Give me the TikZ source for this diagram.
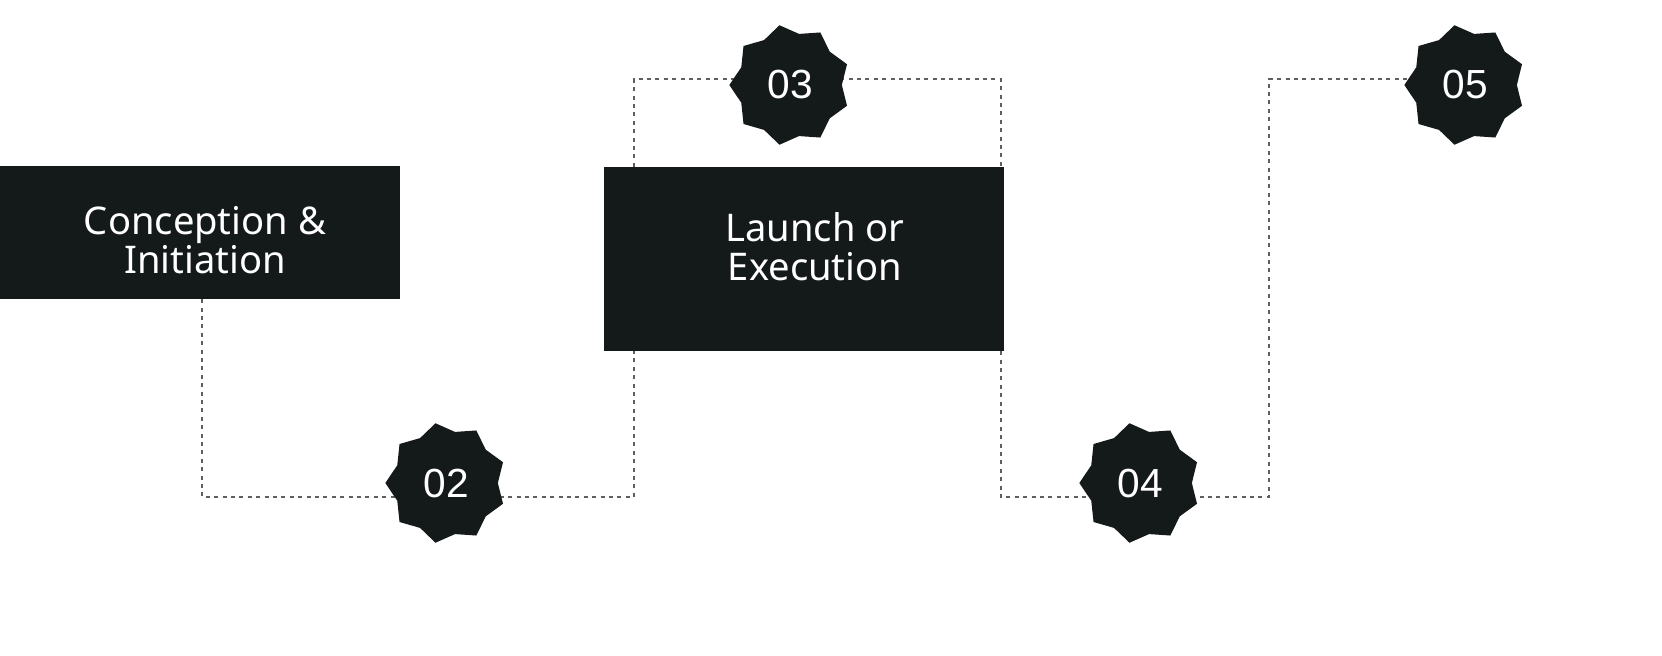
\documentclass[tikz,border=0pt]{standalone}
\usepackage{fontspec}
\setmainfont{Noto Sans}
\newfontfamily\numfont{Liberation Sans}
\usetikzlibrary{shapes.geometric,backgrounds}

\definecolor{boxfill}{RGB}{20,25,25}
\definecolor{dashgray}{RGB}{95,95,95}

\tikzset{
  stagebox/.style={fill=boxfill, draw=none, inner sep=0pt, minimum width=300pt},
  stagetext/.style={text=white, align=center, inner sep=0pt, font=\fontsize{28.6}{29.5}\selectfont},
  badge/.style={star, star points=9, star point ratio=1.17, shape border rotate=10,
    fill=boxfill, minimum size=91pt, inner sep=0pt, text=white,
    font=\numfont\fontsize{30.5}{30}\selectfont},
  guide/.style={draw=dashgray, line width=1.15pt, dash pattern=on 3pt off 3.3pt},
}

\begin{document}
\begin{tikzpicture}[x=0.75pt,y=0.75pt,yscale=-1,xscale=1]
\useasboundingbox (0,0) rectangle (1662,656);

%Shape: Rectangle [id:conc] 
\node[stagebox, minimum height=99.75pt] (conc) at (200,232.5) {};
\node[stagetext] (conctext) at (205,240) {Conception \&\\Initiation};
%Shape: Rectangle [id:launch] 
\node[stagebox, minimum height=138pt] (launch) at (804,259) {};
\node[stagetext] (launchtext) at (815,246.5) {Launch or\\Execution};

%Shape: Star [id:b02] 
\node[badge] (b02) at (446,483) {02};
%Shape: Star [id:b03] 
\node[badge] (b03) at (790,85) {03};
%Shape: Star [id:b04] 
\node[badge] (b04) at (1140,483) {04};
%Shape: Star [id:b05] 
\node[badge] (b05) at (1465,85) {05};

%corners of the guide line
\coordinate (c1) at (202,497);
\coordinate (c2) at (634,497);
\coordinate (c3) at (634,79);
\coordinate (c4) at (1001,79);
\coordinate (c5) at (1001,497);
\coordinate (c6) at (1269,497);
\coordinate (c7) at (1269,79);

\begin{scope}[on background layer]
%Straight Lines [id:conc-launch] 
\draw[guide] (conc.south -| c1) -- (c1) -- (b02 |- c1) -- (c2) -- (launch.south -| c2);
%Straight Lines [id:launch-top] 
\draw[guide] (launch.north -| c3) -- (c3) -- (b03 |- c3) -- (c4) -- (launch.north -| c4);
%Straight Lines [id:launch-b05] 
\draw[guide] (launch.south -| c5) -- (c5) -- (b04 |- c5) -- (c6) -- (c7) -- (b05 |- c7);
\end{scope}

\end{tikzpicture}
\end{document}
